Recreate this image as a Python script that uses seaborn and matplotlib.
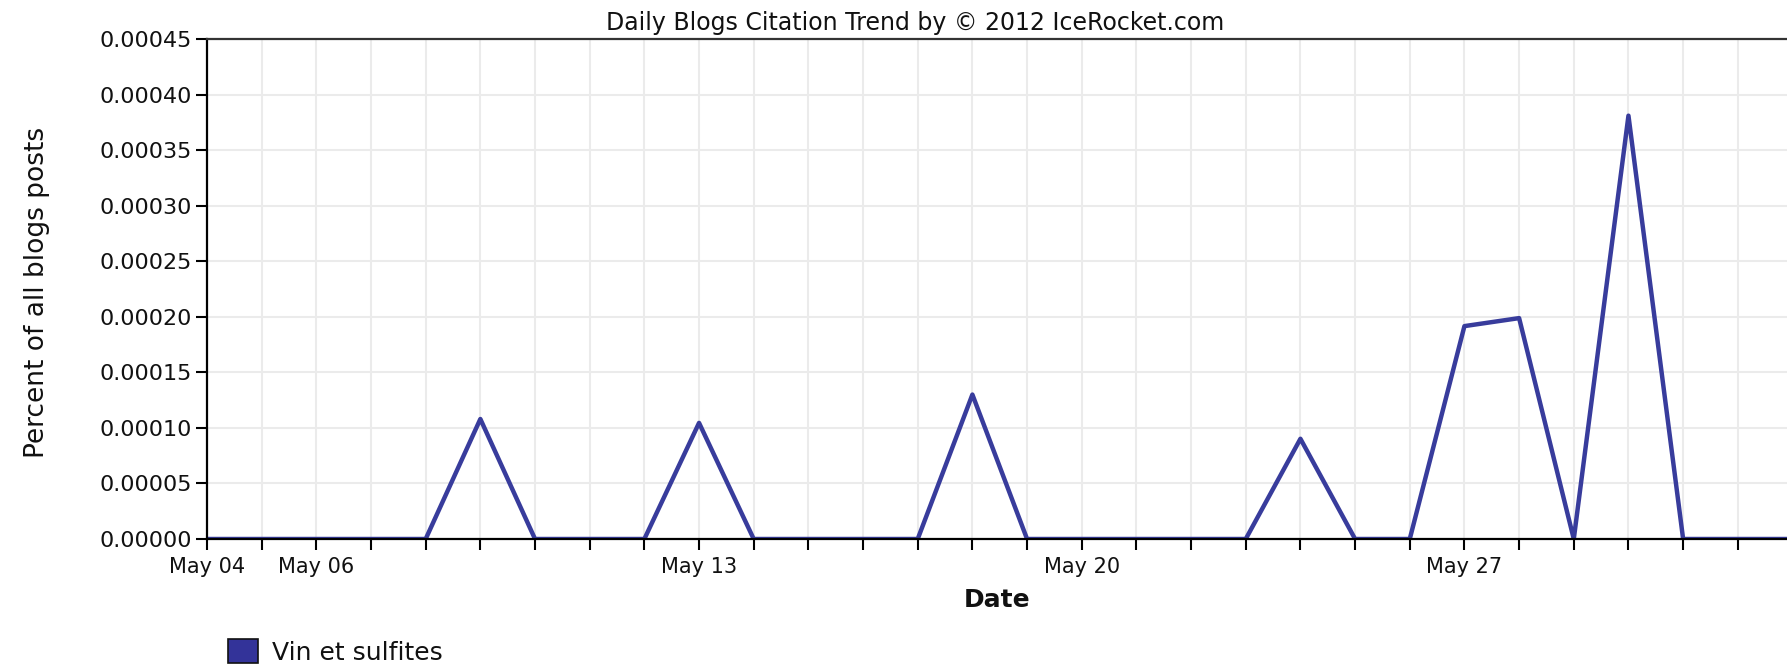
import numpy as np
import pandas as pd
import matplotlib
matplotlib.use("Agg")
import matplotlib.pyplot as plt
import matplotlib.dates as mdates
from matplotlib.patches import Patch
from matplotlib import font_manager
import seaborn as sns

# ---- data ----
dates = pd.date_range("2012-05-04", "2012-06-02", freq="D")
values = [0, 0, 0, 0, 0, 0.000108, 0, 0, 0, 0.0001045, 0, 0, 0, 0, 0.000130, 0,
          0, 0, 0, 0, 0.0000902, 0, 0, 0.0001916, 0.0001988, 0, 0.000381, 0, 0, 0]
series_name = "Vin et sulfites"
major_tick_dates = ["2012-05-04", "2012-05-06", "2012-05-13", "2012-05-20", "2012-05-27"]
y_ticks = [0.0, 0.00005, 0.0001, 0.00015, 0.0002, 0.00025, 0.0003, 0.00035, 0.0004, 0.00045]
title = "Daily Blogs Citation Trend by \u00a9 2012 IceRocket.com"
x_label = "Date"
y_label = "Percent of all blogs posts"
line_color = "#383c9c"

df = pd.DataFrame({"date": dates[:len(values)], "value": values})

sns.set_theme(style="white")
plt.rcParams["font.family"] = ["DejaVu Sans"]

W, H = 1787, 667
fig = plt.figure(figsize=(W / 100, H / 100), dpi=100)
ax = fig.add_axes([207 / W, 1 - 539 / H, 1 - 207 / W, (539 - 39) / H])

sns.lineplot(data=df, x="date", y="value", ax=ax, color=line_color, linewidth=3.2, legend=False,
             solid_joinstyle="round", solid_capstyle="round")

x0 = pd.Timestamp("2012-05-04")
ax.set_xlim(x0, x0 + pd.Timedelta(days=28.9))
ax.set_ylim(0, 0.00045)

lbl_pos = [mdates.date2num(pd.Timestamp(d)) for d in major_tick_dates]
ax.set_xticks(lbl_pos)
ax.set_xticklabels([pd.Timestamp(d).strftime("%b %d") for d in major_tick_dates])
ax.xaxis.set_minor_locator(mdates.DayLocator())
ax.set_yticks(y_ticks)
ax.set_yticklabels([f"{v:.5f}" for v in y_ticks])

ax.grid(True, which="both", axis="x", color="#ebebeb", linewidth=1.5)
ax.grid(True, which="major", axis="y", color="#ebebeb", linewidth=1.5)
ax.set_axisbelow(True)
ax.tick_params(axis="x", which="both", direction="out", length=8, width=1.5, color="black", bottom=True)
ax.tick_params(axis="x", which="major", pad=5, labelsize=15, labelcolor="#111111")
ax.tick_params(axis="y", direction="out", length=8, width=1.5, color="black", left=True, labelsize=16, pad=3, labelcolor="#111111")

for s in ["left", "bottom"]:
    ax.spines[s].set_color("black")
    ax.spines[s].set_linewidth(1.6)
ax.spines["top"].set_color("#333333")
ax.spines["top"].set_linewidth(1.6)
ax.spines["right"].set_visible(False)
ax.set_xlabel("")
ax.set_ylabel("")

names = {f.name for f in font_manager.fontManager.ttflist}
if "Liberation Sans Narrow" in names:
    yl_family, yl_size = ["Liberation Sans Narrow", "DejaVu Sans"], 23
else:
    yl_family, yl_size = ["DejaVu Sans"], 19

fig.text(915 / W, 1 - 23 / H, title, ha="center", va="center", fontsize=17, color="#111111")
fig.text(997 / W, 1 - 600 / H, x_label, ha="center", va="center", fontsize=18, fontweight="bold", color="#111111")
fig.text(37 / W, 1 - 292 / H, y_label, ha="center", va="center", rotation=90, fontsize=yl_size,
         family=yl_family, color="#111111")

handle = Patch(facecolor="#333399", edgecolor="#111111", linewidth=1.2, label=series_name)
fig.legend(handles=[handle], loc="center left", bbox_to_anchor=(205 / W, 1 - 652 / H), frameon=False,
           fontsize=18, handlelength=1.2, handleheight=1.1, handletextpad=0.6, labelcolor="#111111")

fig.savefig("out.png", dpi=100)
